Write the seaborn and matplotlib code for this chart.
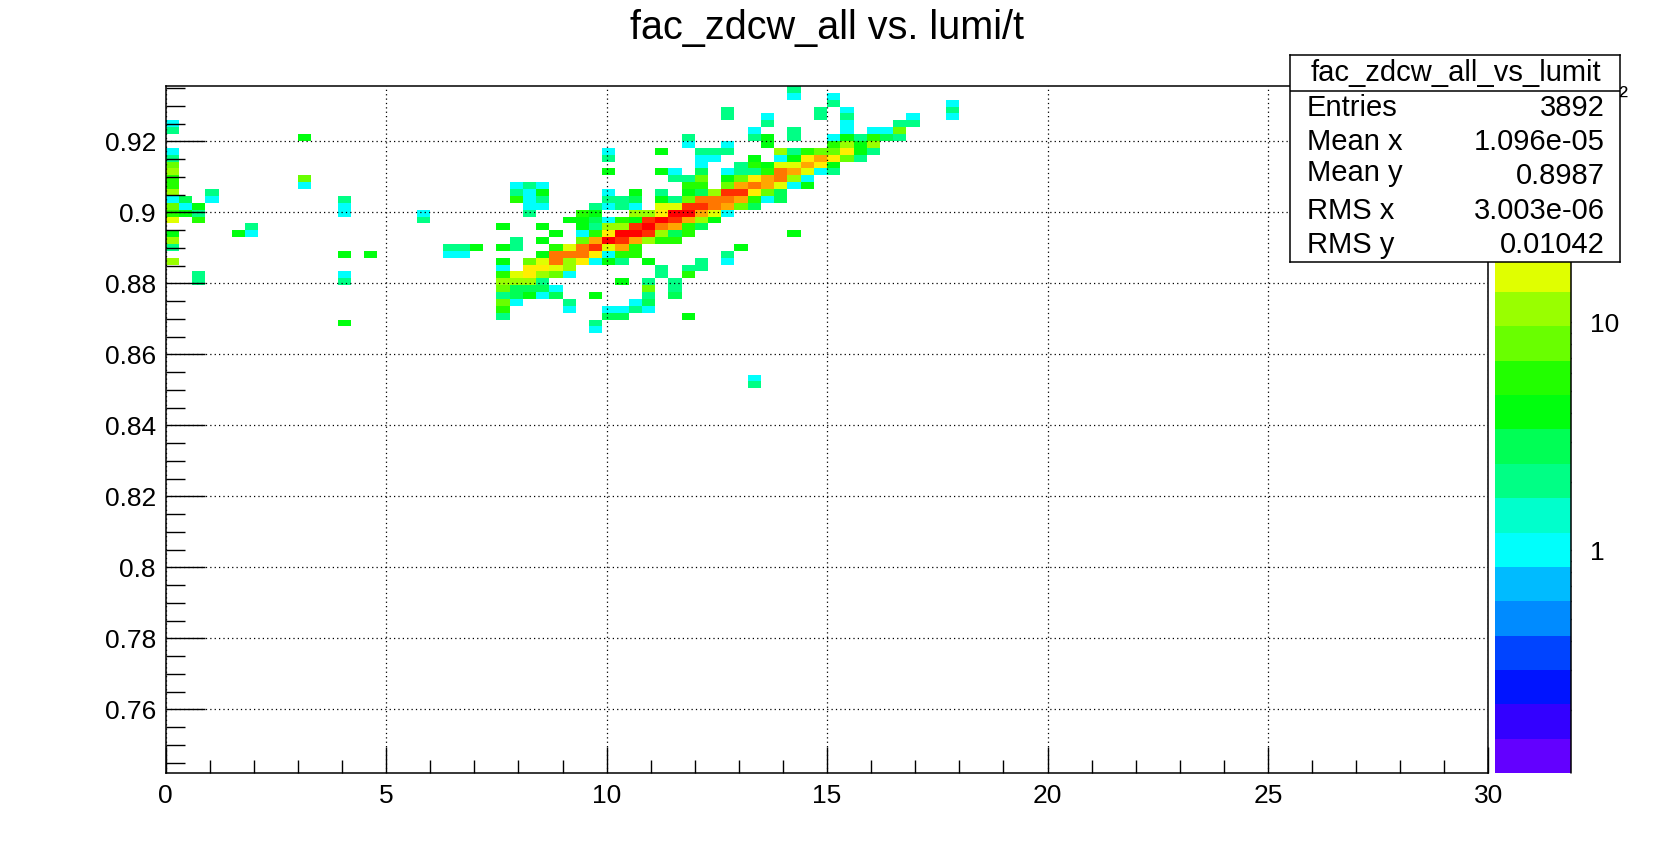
import colorsys
import numpy as np
import pandas as pd
import matplotlib
matplotlib.use("Agg")
import matplotlib.pyplot as plt
from matplotlib.colors import ListedColormap, LogNorm
from matplotlib.ticker import MultipleLocator, FuncFormatter, FixedLocator, LogLocator, NullFormatter
import seaborn as sns

# ---- histogram content: one entry per filled y-row (bin centre of fac_zdcw_all)
fac_rows = [0.93463, 0.93270, 0.93076, 0.92883, 0.92689, 0.92496, 0.92302, 0.92109,
            0.91915, 0.91722, 0.91528, 0.91335, 0.91141, 0.90948, 0.90754, 0.90561,
            0.90367, 0.90174, 0.89980, 0.89787, 0.89593, 0.89400, 0.89206, 0.89013,
            0.88819, 0.88626, 0.88432, 0.88239, 0.88045, 0.87852, 0.87658, 0.87465,
            0.87271, 0.87078, 0.86884, 0.86691, 0.85336, 0.85143]

# lumi/t bin centres of the filled cells in each row
lumi_rows = [
    [14.25],
    [14.25, 15.15],
    [15.15, 17.85],
    [12.75, 14.85, 15.45, 17.85],
    [12.75, 13.65, 14.85, 15.45, 16.95, 17.85],
    [0.15, 13.65, 15.45, 16.65, 16.95],
    [0.15, 13.35, 14.25, 15.45, 16.05, 16.35, 16.65],
    [3.15, 11.85, 13.35, 13.65, 14.25, 15.15, 15.45, 15.75, 16.05, 16.35, 16.65],
    [11.85, 12.75, 13.65, 15.15, 15.45, 15.75, 16.05],
    [0.15, 10.05, 11.25, 12.15, 12.45, 12.75, 13.95, 14.25, 14.55, 14.85, 15.15, 15.45, 15.75, 16.05],
    [0.15, 10.05, 12.15, 12.45, 13.35, 13.95, 14.25, 14.55, 14.85, 15.15, 15.45, 15.75],
    [0.15, 12.15, 13.05, 13.35, 13.65, 13.95, 14.25, 14.55, 14.85, 15.15],
    [0.15, 10.05, 11.25, 11.55, 12.15, 12.75, 13.05, 13.35, 13.65, 13.95, 14.25, 14.55, 14.85, 15.15],
    [0.15, 3.15, 11.55, 11.85, 12.15, 12.75, 13.05, 13.35, 13.65, 13.95, 14.25, 14.55],
    [0.15, 3.15, 7.95, 8.25, 8.55, 11.85, 12.15, 12.75, 13.05, 13.35, 13.65, 13.95, 14.25, 14.55],
    [0.15, 1.05, 7.95, 8.25, 8.55, 10.05, 10.65, 11.25, 11.85, 12.15, 12.45, 12.75, 13.05, 13.35, 13.65, 13.95],
    [0.15, 0.45, 1.05, 4.05, 7.95, 8.25, 8.55, 10.05, 10.35, 10.65, 11.25, 11.55, 11.85, 12.15, 12.45,
     12.75, 13.05, 13.35, 13.65, 13.95],
    [0.15, 0.45, 0.75, 4.05, 8.25, 8.55, 9.75, 10.05, 10.35, 10.65, 11.25, 11.55, 11.85, 12.15, 12.45,
     12.75, 13.05, 13.35],
    [0.15, 0.45, 0.75, 4.05, 5.85, 8.25, 9.45, 9.75, 10.65, 10.95, 11.25, 11.55, 11.85, 12.15, 12.45, 12.75],
    [0.15, 0.75, 5.85, 9.15, 9.45, 9.75, 10.05, 10.35, 10.65, 10.95, 11.25, 11.55, 11.85, 12.15, 12.45],
    [1.95, 7.65, 8.55, 9.45, 9.75, 10.05, 10.35, 10.65, 10.95, 11.25, 11.55, 11.85, 12.15],
    [0.15, 1.65, 1.95, 8.85, 9.45, 9.75, 10.05, 10.35, 10.65, 10.95, 11.25, 11.55, 11.85, 14.25],
    [0.15, 7.95, 8.55, 9.45, 9.75, 10.05, 10.35, 10.65, 10.95, 11.25, 11.55],
    [0.15, 6.45, 6.75, 7.05, 7.65, 7.95, 8.85, 9.15, 9.45, 9.75, 10.05, 10.35, 10.65, 13.05],
    [4.05, 4.65, 6.45, 6.75, 8.55, 8.85, 9.15, 9.45, 9.75, 10.05, 10.35, 10.65, 12.75],
    [0.15, 7.65, 8.25, 8.55, 8.85, 9.15, 9.45, 9.75, 10.05, 10.35, 10.95, 12.15, 12.75],
    [7.65, 8.25, 8.55, 8.85, 9.15, 11.25, 11.85, 12.15],
    [0.75, 4.05, 7.65, 7.95, 8.25, 8.55, 8.85, 9.15, 11.25, 11.85],
    [0.75, 4.05, 7.65, 7.95, 8.25, 8.55, 10.35, 10.95, 11.55],
    [7.65, 7.95, 8.25, 8.55, 8.85, 10.95, 11.55],
    [7.65, 7.95, 8.25, 8.55, 8.85, 9.75, 10.95, 11.55],
    [7.65, 7.95, 9.15, 10.65, 10.95],
    [7.65, 9.15, 10.05, 10.35, 10.65, 10.95],
    [7.65, 10.05, 10.35, 11.85],
    [4.05, 9.75],
    [9.75],
    [13.35],
    [13.35],
]

# entries in those cells
count_rows = [
    [2],
    [1, 1],
    [2, 1],
    [2, 2, 1, 2],
    [2, 1, 2, 2, 1, 1],
    [1, 2, 1, 2, 2],
    [2, 1, 2, 1, 1, 1, 7],
    [4, 2, 2, 4, 2, 1, 4, 2, 5, 3, 2],
    [1, 1, 4, 5, 10, 4, 10],
    [1, 1, 4, 2, 2, 2, 10, 2, 5, 8, 8, 22, 4, 2],
    [2, 2, 1, 1, 4, 1, 4, 22, 32, 22, 8, 2],
    [8, 1, 2, 5, 4, 15, 16, 32, 22, 4],
    [11, 4, 4, 1, 3, 1, 2, 2, 5, 45, 32, 16, 1, 2],
    [5, 7, 2, 2, 8, 4, 8, 22, 30, 45, 10, 1],
    [5, 1, 1, 2, 1, 5, 5, 7, 30, 45, 30, 16, 1, 4],
    [10, 2, 2, 1, 4, 1, 4, 2, 4, 3, 10, 60, 60, 22, 8, 3],
    [1, 3, 1, 2, 5, 1, 2, 2, 2, 3, 4, 2, 8, 45, 45, 45, 32, 5, 1, 3],
    [9, 1, 4, 1, 1, 1, 2, 1, 2, 1, 17, 17, 60, 60, 45, 32, 8, 3],
    [5, 4, 2, 1, 1, 2, 5, 4, 10, 10, 22, 90, 80, 32, 16, 1],
    [15, 5, 2, 4, 4, 3, 1, 5, 4, 65, 95, 65, 32, 10, 4],
    [2, 4, 4, 4, 2, 10, 10, 65, 100, 45, 32, 5, 3],
    [4, 4, 1, 4, 1, 5, 22, 95, 95, 65, 10, 3, 5, 4],
    [10, 2, 4, 8, 32, 100, 65, 32, 10, 5, 5],
    [2, 2, 2, 4, 4, 2, 5, 15, 45, 65, 16, 30, 5, 4],
    [4, 4, 1, 1, 4, 45, 45, 45, 22, 1, 5, 5, 2],
    [10, 4, 8, 15, 42, 11, 22, 1, 4, 2, 4, 2, 1],
    [1, 22, 22, 15, 10, 2, 2, 2],
    [2, 1, 5, 15, 22, 10, 8, 1, 2, 5],
    [2, 2, 10, 10, 10, 2, 4, 2, 2],
    [8, 3, 3, 3, 1, 7, 2],
    [2, 3, 4, 1, 3, 4, 2, 3],
    [7, 1, 2, 1, 3],
    [5, 1, 1, 1, 2, 1],
    [2, 3, 3, 4],
    [4, 2],
    [1],
    [1],
    [2],
]

# histogram binning / ranges
lumi_range = (0, 30)
fac_range = (0.7421, 0.9356)
n_bins = (100, 100)
z_range = (0.1055, 108.9)

stats_title = "fac_zdcw_all_vs_lumit"
stats_labels = ["Entries", "Mean x", "Mean y", "RMS x", "RMS y"]
stats_values = ["3892", "1.096e-05", "0.8987", "3.003e-06", "0.01042"]

# ---- build the long table
lumi = [x for row in lumi_rows for x in row]
fac = [f for f, row in zip(fac_rows, lumi_rows) for _ in row]
entries = [c for row in count_rows for c in row]
df = pd.DataFrame({"lumi": lumi, "fac": fac, "n": entries})


def root_pretty_palette(n_levels=20, n_colors=50):
    # ROOT gStyle->SetPalette(1): HLS hue scan violet -> red
    cols = []
    for j in range(n_levels):
        k = int((j + 0.99) * n_colors / n_levels)
        hue = 0.0 if k >= n_colors - 1 else 280 - (k + 1) * 280 / n_colors
        cols.append(colorsys.hls_to_rgb(hue / 360, 0.5, 1.0))
    return ListedColormap(cols)


sns.set_theme(style="white")
plt.rcParams["font.family"] = ["Liberation Sans", "DejaVu Sans"]
plt.rcParams["text.color"] = "black"
plt.rcParams["xtick.color"] = "black"
plt.rcParams["ytick.color"] = "black"
plt.rcParams["axes.labelcolor"] = "black"

W, H = 1654, 861
fig = plt.figure(figsize=(W / 100, H / 100), dpi=100)
ax = fig.add_axes([165.7 / W, 1 - 773 / H, (1488.4 - 165.7) / W, (773 - 86) / H])
cax = fig.add_axes([1494.6 / W, 1 - 773 / H, (1570.6 - 1494.6) / W, (773 - 86) / H])

cmap = root_pretty_palette()
norm = LogNorm(vmin=z_range[0], vmax=z_range[1])

sns.histplot(data=df, x="lumi", y="fac", weights="n", bins=n_bins,
             binrange=(lumi_range, fac_range), cmap=cmap, ax=ax)
mesh = ax.collections[0]
mesh.set_norm(norm)
mesh.set_cmap(cmap)

ax.set_xlim(*lumi_range)
ax.set_ylim(*fac_range)
ax.set_xlabel("")
ax.set_ylabel("")

for sp in ax.spines.values():
    sp.set_color("black")
    sp.set_linewidth(1.1)

ax.xaxis.set_major_locator(MultipleLocator(5))
ax.xaxis.set_minor_locator(MultipleLocator(1))
ax.yaxis.set_major_locator(MultipleLocator(0.02))
ax.yaxis.set_minor_locator(MultipleLocator(0.005))
ax.yaxis.set_major_formatter(FuncFormatter(lambda v, p: f"{v:g}"))
ax.xaxis.set_major_formatter(FuncFormatter(lambda v, p: f"{v:g}"))

ax.tick_params(axis="x", which="major", direction="in", length=19, width=1,
               bottom=True, top=False, labelsize=19, pad=8, colors="black")
ax.tick_params(axis="x", which="minor", direction="in", length=9.5, width=1,
               bottom=True, top=False)
ax.tick_params(axis="y", which="major", direction="in", length=28, width=1,
               left=True, right=False, labelsize=19, pad=7, colors="black")
ax.tick_params(axis="y", which="minor", direction="in", length=14, width=1,
               left=True, right=False)

ax.grid(True, which="major", color="black", linestyle=(0, (1, 2.5)), linewidth=0.9)
ax.set_axisbelow(False)

# ---- palette axis
cbar = fig.colorbar(mesh, cax=cax)
cbar.outline.set_visible(False)
cax.yaxis.set_ticks_position("right")
cax.yaxis.set_major_locator(FixedLocator([1, 10, 100]))
cax.yaxis.set_major_formatter(FuncFormatter(lambda v, p: {1: "1", 10: "10", 100: "10\u00b2"}.get(int(round(v)), "")))
cax.yaxis.set_minor_locator(LogLocator(base=10, subs=np.arange(2, 10)))
cax.yaxis.set_minor_formatter(NullFormatter())
cax.tick_params(axis="y", which="major", direction="in", length=29, width=1,
                labelsize=19, pad=14, colors="black")
cax.tick_params(axis="y", which="minor", direction="in", length=14.5, width=1)
cax.plot([1, 1], [0, 1], transform=cax.transAxes, color="black", lw=1.1, clip_on=False)

# ---- stats box
sax = fig.add_axes([1290 / W, 1 - 262 / H, (1620 - 1290) / W, (262 - 55) / H])
sax.set_zorder(10)
sax.set_facecolor("white")
sax.set_xticks([])
sax.set_yticks([])
sax.set_xlim(0, 1)
sax.set_ylim(0, 1)
for sp in sax.spines.values():
    sp.set_visible(True)
    sp.set_color("black")
    sp.set_linewidth(1.1)
sax.axhline((262 - 91) / 207, color="black", lw=1.1)
sax.text(0.502, (262 - 72.8) / 207, stats_title, ha="center", va="center", fontsize=21, color="black")
label_y = [107.6, 142.4, 173.0, 211.0, 244.7]
value_y = [107.6, 142.4, 176.2, 211.0, 244.7]
for lab, val, ly, vy in zip(stats_labels, stats_values, label_y, value_y):
    sax.text(0.0515, (262 - ly) / 207, lab, ha="left", va="center", fontsize=21, color="black")
    sax.text(0.953, (262 - vy) / 207, val, ha="right", va="center", fontsize=21, color="black")

fig.text(0.5, 1 - 28 / H, "fac_zdcw_all vs. lumi/t", ha="center", va="center",
         fontsize=28.5, color="black")

fig.savefig("out.png", dpi=100, facecolor="white")
